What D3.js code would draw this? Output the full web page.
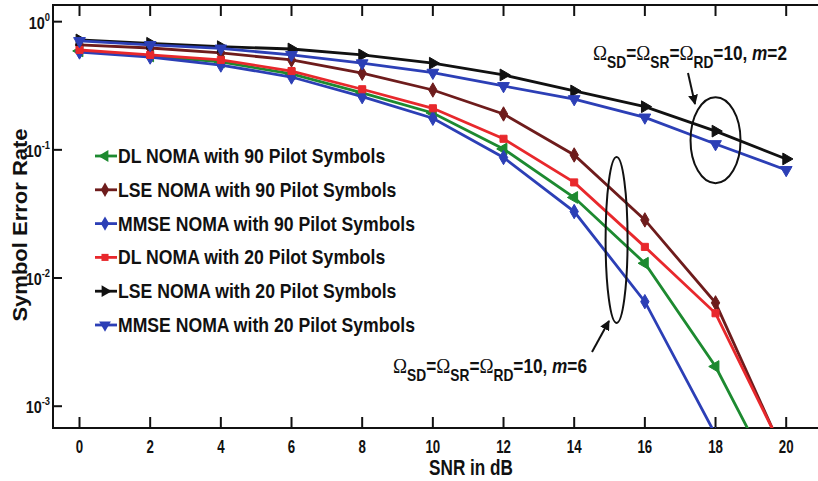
<!DOCTYPE html>
<html>
<head>
<meta charset="utf-8">
<script src="https://cdn.jsdelivr.net/npm/d3@7"></script>
<style>
  body { margin: 0; background: #fff; }
  text { font-family: "Liberation Sans", Arial, sans-serif; font-weight: bold; fill: #111; }
</style>
</head>
<body>
<div id="chart"></div>
<script>
// SNR points (dB)
var snr = [0, 2, 4, 6, 8, 10, 12, 14, 16, 18, 20];

// Symbol error rate
var dl90   = [0.591, 0.540, 0.485, 0.391, 0.278, 0.194, 0.1016, 0.0425, 0.01304, 0.00204, 0.000176];
var lse90  = [0.658, 0.623, 0.570, 0.503, 0.396, 0.293, 0.1905, 0.0912, 0.0284, 0.0064, 0.000388];
var mmse90 = [0.580, 0.530, 0.459, 0.370, 0.260, 0.1764, 0.0872, 0.033, 0.00654, 0.0006, 0.0000632];
var dl20   = [0.601, 0.550, 0.503, 0.412, 0.297, 0.211, 0.122, 0.0557, 0.0175, 0.00531, 0.000402];
var lse20  = [0.720, 0.678, 0.638, 0.612, 0.550, 0.474, 0.384, 0.288, 0.217, 0.140, 0.0849];
var mmse20 = [0.707, 0.658, 0.618, 0.550, 0.474, 0.400, 0.315, 0.249, 0.179, 0.111, 0.0697];

var names = ['DL NOMA with 90 Pilot Symbols', 'LSE NOMA with 90 Pilot Symbols', 'MMSE NOMA with 90 Pilot Symbols',
             'DL NOMA with 20 Pilot Symbols', 'LSE NOMA with 20 Pilot Symbols', 'MMSE NOMA with 20 Pilot Symbols'];
var xTicks = [0, 2, 4, 6, 8, 10, 12, 14, 16, 18, 20];
var yTicks = [0, -1, -2, -3]; // exponents

var series = [
  {name: names[0], values: dl90,   color: '#1d8a30', shape: d3.symbolTriangle, rot: -90},
  {name: names[1], values: lse90,  color: '#6e1c1c', shape: d3.symbolDiamond,  rot: 0},
  {name: names[2], values: mmse90, color: '#2c3fb6', shape: d3.symbolDiamond,  rot: 0},
  {name: names[3], values: dl20,   color: '#e8282c', shape: d3.symbolSquare,   rot: 0},
  {name: names[4], values: lse20,  color: '#111111', shape: d3.symbolTriangle, rot: 90},
  {name: names[5], values: mmse20, color: '#2c3fb6', shape: d3.symbolTriangle, rot: 180}
];

var W = 818, H = 481;
var mLeft = 53, mTop = 5, mRight = 818, mBottom = 428;

var svg = d3.select('#chart').append('svg')
    .attr('width', W).attr('height', H);
svg.append('rect').attr('width', W).attr('height', H).attr('fill', '#fff');

var x = d3.scaleLinear().domain([-0.75, 20.9]).range([mLeft, mRight]);
var y = d3.scaleLog().domain([Math.pow(10, 0.13), Math.pow(10, -3.17)]).range([mTop, mBottom]);

// scaled text helper (the figure's lettering is narrow)
function stext(parent, px, py, size, sx, anchor, rot) {
  var g = parent.append('g')
    .attr('transform', 'translate(' + px + ',' + py + ')' + (rot ? ' rotate(' + rot + ')' : '') + ' scale(' + sx + ',1)');
  return g.append('text').attr('font-size', size).attr('text-anchor', anchor || 'start');
}

svg.append('clipPath').attr('id', 'clip')
  .append('rect').attr('x', mLeft).attr('y', mTop).attr('width', mRight - mLeft).attr('height', mBottom - mTop);

// frame and ticks
var frame = svg.append('g').attr('stroke', '#111').attr('stroke-width', 2).attr('fill', 'none');
frame.append('line').attr('x1', mLeft).attr('x2', W).attr('y1', mTop).attr('y2', mTop);
frame.append('line').attr('x1', mLeft).attr('x2', W).attr('y1', mBottom).attr('y2', mBottom);
frame.append('line').attr('x1', mLeft).attr('x2', mLeft).attr('y1', mTop - 1).attr('y2', mBottom + 1);

xTicks.forEach(function(t) {
  frame.append('line').attr('x1', x(t)).attr('x2', x(t)).attr('y1', mTop).attr('y2', mTop + 11);
  frame.append('line').attr('x1', x(t)).attr('x2', x(t)).attr('y1', mBottom).attr('y2', mBottom - 11);
  stext(svg, x(t), 453, 19, 0.7, 'middle').text(t);
});

yTicks.forEach(function(e) {
  var ty = y(Math.pow(10, e));
  frame.append('line').attr('x1', mLeft).attr('x2', mLeft + 9).attr('y1', ty).attr('y2', ty);
  var t = stext(svg, 50, ty + 7, 17, 0.85, 'end');
  t.append('tspan').text('10');
  t.append('tspan').attr('font-size', 11).attr('dy', -8).text(e);
});

stext(svg, 471, 475, 22, 0.78, 'middle').text('SNR in dB');
stext(svg, 27, 225, 20, 1.1, 'middle', -90).text('Symbol Error Rate');

// curves
var plot = svg.append('g').attr('clip-path', 'url(#clip)');
var line = d3.line()
  .x(function(d) { return x(d[0]); })
  .y(function(d) { return y(d[1]); });

series.forEach(function(s) {
  var pts = snr.map(function(v, i) { return [v, s.values[i]]; });
  plot.append('path').datum(pts)
    .attr('d', line)
    .attr('fill', 'none')
    .attr('stroke', s.color)
    .attr('stroke-width', 2.8);
  plot.selectAll(null).data(pts).enter().append('path')
    .attr('d', d3.symbol().type(s.shape).size(s.shape === d3.symbolSquare ? 50 : 60))
    .attr('transform', function(d) { return 'translate(' + x(d[0]) + ',' + y(d[1]) + ') rotate(' + s.rot + ')'; })
    .attr('fill', s.color)
    .attr('stroke', s.color)
    .attr('stroke-width', 1);
});

// legend
var legend = svg.append('g');
series.forEach(function(s, i) {
  var ly = 156 + i * 33.8;
  legend.append('line').attr('x1', 95).attr('x2', 117).attr('y1', ly).attr('y2', ly)
    .attr('stroke', s.color).attr('stroke-width', 2.8);
  legend.append('path')
    .attr('d', d3.symbol().type(s.shape).size(s.shape === d3.symbolSquare ? 50 : 60))
    .attr('transform', 'translate(105,' + ly + ') rotate(' + s.rot + ')')
    .attr('fill', s.color);
  stext(legend, 118, ly + 7, 20.5, 0.86, 'start').text(s.name);
});

// annotation labels: Ω SD = Ω SR = Ω RD =10, m=..
function omega(px, py, mval) {
  var t = stext(svg, px, py, 20, 0.86, 'start');
  var parts = [['\u03A9', 0, 'o'], ['SD', 8, 's'], ['=', -8, 'n'], ['\u03A9', 0, 'o'], ['SR', 8, 's'],
               ['=', -8, 'n'], ['\u03A9', 0, 'o'], ['RD', 8, 's'], ['=10, ', -8, 'n'], ['m', 0, 'i'], ['=' + mval, 0, 'n']];
  parts.forEach(function(p) {
    var sp = t.append('tspan').attr('dy', p[1]).text(p[0]);
    if (p[2] === 'o') sp.attr('font-family', '"Liberation Serif", serif').attr('font-weight', 'normal').attr('font-size', 22);
    if (p[2] === 's') sp.attr('font-size', 16);
    if (p[2] === 'i') sp.attr('font-style', 'italic');
  });
}
omega(593, 60, 2);
omega(393, 373, 6);

svg.append('defs').append('marker')
  .attr('id', 'arrow').attr('viewBox', '0 0 10 10').attr('refX', 9).attr('refY', 5)
  .attr('markerWidth', 5).attr('markerHeight', 5).attr('orient', 'auto')
  .append('path').attr('d', 'M0,0L10,5L0,10z').attr('fill', '#111');

var ann = svg.append('g').attr('fill', 'none').attr('stroke', '#111').attr('stroke-width', 2);
ann.append('ellipse').attr('cx', x(18)).attr('cy', y(0.119)).attr('rx', 25).attr('ry', 43);
ann.append('ellipse').attr('cx', x(15.2)).attr('cy', y(0.0198)).attr('rx', 11).attr('ry', 83);
ann.append('line').attr('x1', 688).attr('y1', 73).attr('x2', 695).attr('y2', 104).attr('marker-end', 'url(#arrow)');
ann.append('line').attr('x1', 592).attr('y1', 352).attr('x2', 609).attr('y2', 321).attr('marker-end', 'url(#arrow)');
</script>
</body>
</html>
